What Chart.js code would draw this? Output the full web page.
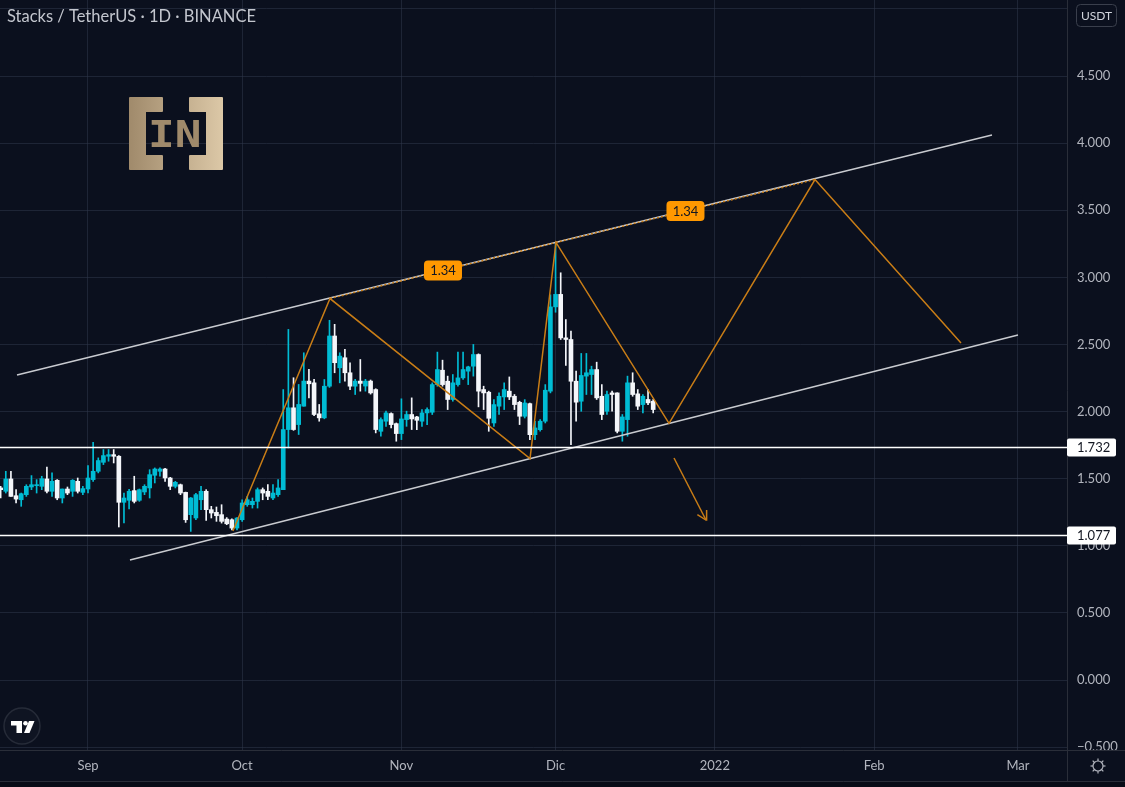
<!DOCTYPE html>
<html>
<head>
<meta charset="utf-8">
<title>Stacks / TetherUS · 1D · BINANCE</title>
<script src="https://cdn.jsdelivr.net/npm/chart.js@4/dist/chart.umd.min.js"></script>
<style>
  html, body { margin: 0; padding: 0; background: #0b101e; overflow: hidden; }
  canvas { display: block; }
</style>
</head>
<body>
<canvas id="chart" width="1125" height="787"></canvas>
<script>
// STX/USDT daily candles. x values are days counted from 2021-09-01.
const FIRST_DAY = -17; // 2021-08-15

const open = [
  1.431, 1.406, 1.498, 1.373, 1.343, 1.381, 1.438, 1.448, 1.443, 1.498,
  1.406, 1.488, 1.356, 1.423, 1.406, 1.480, 1.398, 1.423, 1.493, 1.555,
  1.622, 1.667, 1.679, 1.667, 1.324, 1.339, 1.411, 1.339, 1.401, 1.431,
  1.525, 1.555, 1.572, 1.505, 1.443, 1.455, 1.398, 1.232, 1.207, 1.343,
  1.406, 1.269, 1.249, 1.232, 1.199, 1.194, 1.132, 1.194, 1.306, 1.306,
  1.331, 1.418, 1.406, 1.356, 1.381, 1.418, 1.866, 2.028, 1.903, 2.040,
  2.227, 2.214, 1.983, 1.953, 2.189, 2.563, 2.326, 2.401, 2.289, 2.189,
  2.227, 2.190, 2.227, 2.164, 1.853, 1.928, 1.985, 1.910, 1.836, 1.940,
  1.978, 1.960, 1.928, 1.990, 1.995, 2.201, 2.308, 2.226, 2.090, 2.201,
  2.251, 2.301, 2.338, 2.425, 2.164, 2.144, 1.915, 2.040, 2.109, 2.152,
  2.114, 2.069, 1.965, 2.059, 1.828, 1.865, 1.928, 2.152, 2.780, 2.873,
  2.549, 2.537, 2.226, 2.077, 2.264, 2.276, 2.313, 2.114, 2.002, 2.139,
  2.139, 1.853, 1.940, 2.214, 2.132, 2.052, 2.090, 2.077
];
const high = [
  1.443, 1.555, 1.555, 1.418, 1.393, 1.455, 1.523, 1.493, 1.518, 1.587,
  1.543, 1.493, 1.423, 1.438, 1.493, 1.505, 1.443, 1.597, 1.771, 1.655,
  1.717, 1.717, 1.717, 1.672, 1.393, 1.420, 1.518, 1.423, 1.455, 1.567,
  1.580, 1.580, 1.577, 1.510, 1.480, 1.460, 1.400, 1.360, 1.390, 1.443,
  1.418, 1.294, 1.289, 1.306, 1.210, 1.200, 1.210, 1.343, 1.368, 1.356,
  1.431, 1.431, 1.456, 1.456, 1.493, 2.164, 2.612, 2.252, 2.202, 2.438,
  2.314, 2.240, 2.053, 2.239, 2.680, 2.650, 2.438, 2.463, 2.364, 2.240,
  2.388, 2.240, 2.235, 2.170, 1.953, 2.003, 1.990, 1.915, 2.095, 2.003,
  2.102, 1.965, 2.015, 2.027, 2.214, 2.443, 2.383, 2.264, 2.276, 2.443,
  2.443, 2.338, 2.500, 2.430, 2.189, 2.152, 2.089, 2.139, 2.214, 2.258,
  2.127, 2.077, 2.089, 2.064, 1.927, 1.940, 2.201, 2.870, 3.260, 3.034,
  2.686, 2.600, 2.301, 2.433, 2.433, 2.338, 2.368, 2.201, 2.152, 2.152,
  2.140, 1.978, 2.264, 2.289, 2.164, 2.127, 2.164, 2.090
];
const low = [
  1.356, 1.393, 1.368, 1.319, 1.294, 1.368, 1.418, 1.393, 1.418, 1.393,
  1.368, 1.343, 1.319, 1.381, 1.368, 1.393, 1.381, 1.393, 1.480, 1.543,
  1.605, 1.630, 1.617, 1.140, 1.170, 1.274, 1.319, 1.331, 1.381, 1.356,
  1.468, 1.518, 1.480, 1.418, 1.431, 1.381, 1.174, 1.107, 1.194, 1.269,
  1.189, 1.207, 1.182, 1.169, 1.157, 1.119, 1.119, 1.182, 1.294, 1.281,
  1.281, 1.343, 1.343, 1.343, 1.368, 1.418, 1.729, 1.860, 1.829, 2.040,
  2.102, 1.970, 1.928, 1.946, 2.180, 2.289, 2.214, 2.227, 2.164, 2.127,
  2.152, 2.152, 2.130, 1.841, 1.816, 1.890, 1.878, 1.779, 1.791, 1.890,
  1.866, 1.866, 1.890, 1.903, 1.978, 2.189, 2.189, 2.015, 2.077, 2.189,
  2.239, 2.201, 2.264, 2.035, 2.015, 1.853, 1.890, 1.978, 2.015, 2.089,
  2.015, 1.903, 1.952, 1.791, 1.791, 1.853, 1.915, 2.139, 2.740, 2.537,
  2.343, 1.754, 1.928, 2.002, 2.127, 2.127, 2.090, 1.940, 1.978, 2.002,
  1.841, 1.779, 1.816, 2.114, 2.015, 1.990, 2.052, 1.990
];
const close = [
  1.418, 1.498, 1.368, 1.348, 1.388, 1.443, 1.455, 1.455, 1.500, 1.406,
  1.480, 1.356, 1.423, 1.393, 1.488, 1.406, 1.426, 1.505, 1.555, 1.635,
  1.672, 1.679, 1.667, 1.324, 1.356, 1.406, 1.331, 1.418, 1.443, 1.530,
  1.572, 1.572, 1.505, 1.443, 1.473, 1.393, 1.194, 1.356, 1.381, 1.406,
  1.269, 1.244, 1.224, 1.182, 1.164, 1.132, 1.207, 1.319, 1.343, 1.331,
  1.418, 1.393, 1.368, 1.393, 1.431, 1.866, 2.028, 1.866, 2.053, 2.227,
  2.207, 1.978, 1.953, 2.189, 2.563, 2.364, 2.413, 2.289, 2.189, 2.227,
  2.210, 2.227, 2.139, 1.866, 1.940, 1.990, 1.903, 1.836, 1.945, 1.978,
  1.945, 1.935, 1.990, 2.015, 2.201, 2.313, 2.201, 2.090, 2.214, 2.251,
  2.313, 2.333, 2.425, 2.152, 2.139, 1.950, 2.052, 2.114, 2.164, 2.109,
  2.052, 1.965, 2.064, 1.828, 1.878, 1.928, 2.159, 2.780, 2.873, 2.549,
  2.537, 2.226, 2.070, 2.269, 2.289, 2.313, 2.102, 1.978, 2.127, 2.127,
  1.853, 1.960, 2.214, 2.127, 2.040, 2.114, 2.065, 2.015
];
const days = open.map((_, i) => FIRST_DAY + i);

// Month boundaries on the time axis (days from 2021-09-01)
const monthDays = [0, 30, 61, 91, 122, 153, 181];
const monthLabels = ['Sep', 'Oct', 'Nov', 'Dic', '2022', 'Feb', 'Mar'];
const priceTicks = [-0.5, 0, 0.5, 1, 1.5, 2, 2.5, 3, 3.5, 4, 4.5, 5];

// Drawings: ascending channel, horizontal levels, projected swing path
const upperChannel = [{ x: -13.82, y: 2.272 }, { x: 175.94, y: 4.060 }];
const lowerChannel = [{ x: 8.17, y: 0.894 }, { x: 181.0, y: 2.570 }];
const supportLevels = [1.732, 1.077];
const swingPath = [
  { x: 28.2, y: 1.110 }, { x: 47.10, y: 2.842 }, { x: 86.03, y: 1.650 },
  { x: 91.08, y: 3.260 }, { x: 113.08, y: 1.912 }, { x: 141.49, y: 3.729 },
  { x: 169.91, y: 2.511 }
];
const measureLegs = [
  [{ x: 47.10, y: 2.842 }, { x: 91.08, y: 3.260 }],
  [{ x: 91.08, y: 3.260 }, { x: 141.49, y: 3.729 }]
];
const legRatios = ['1.34', '1.34'];
const breakdownArrow = [{ x: 114.05, y: 1.654 }, { x: 120.28, y: 1.192 }];
const breakdownArrowHead = [{ x: 118.6, y: 1.232 }, { x: 120.28, y: 1.192 }, { x: 120.4, y: 1.267 }];

const BG = '#0b101e';
const GRID = 'rgba(48,55,75,0.55)';
const PANEL_LINE = '#2a2e39';
const TICK_COLOR = '#b2b5be';
const UP = '#00bcd4';
const DOWN = '#f4f6fa';
const PATH_ORANGE = '#c97d16';
const TAG_ORANGE = '#ff9800';
const CHANNEL = '#c9cbd0';
const FONT = 'Lato, "Open Sans", sans-serif';

const candleColor = (ctx) => (close[ctx.dataIndex] >= open[ctx.dataIndex] ? UP : DOWN);
const fmtPrice = (v) => (v < 0 ? '\u2212' + Math.abs(v).toFixed(3) : v.toFixed(3));
const levelLine = (v) => [{ x: -30, y: v }, { x: 200, y: v }];

function roundRect(ctx, x, y, w, h, r) {
  ctx.beginPath();
  ctx.moveTo(x + r, y);
  ctx.lineTo(x + w - r, y);
  ctx.arcTo(x + w, y, x + w, y + r, r);
  ctx.lineTo(x + w, y + h - r);
  ctx.arcTo(x + w, y + h, x + w - r, y + h, r);
  ctx.lineTo(x + r, y + h);
  ctx.arcTo(x, y + h, x, y + h - r, r);
  ctx.lineTo(x, y + r);
  ctx.arcTo(x, y, x + r, y, r);
  ctx.closePath();
}

// "[IN]" brand mark in the upper left of the pane
function drawBrandMark(ctx) {
  ctx.save();
  const g = ctx.createLinearGradient(129, 0, 223, 0);
  g.addColorStop(0, '#a08a6b');
  g.addColorStop(1, '#dcc8a7');
  ctx.fillStyle = g;
  ctx.strokeStyle = g;
  ctx.lineJoin = 'round';
  ctx.lineWidth = 2;
  const left = [[130, 98], [162, 98], [162, 111], [145, 111], [145, 156], [162, 156], [162, 169], [130, 169]];
  const right = [[222, 98], [190, 98], [190, 111], [207, 111], [207, 156], [190, 156], [190, 169], [222, 169]];
  [left, right].forEach((pts) => {
    ctx.beginPath();
    pts.forEach(([px, py], i) => (i ? ctx.lineTo(px, py) : ctx.moveTo(px, py)));
    ctx.closePath();
    ctx.fill();
    ctx.stroke();
  });
  ctx.font = 'bold 37px "DejaVu Sans Mono", monospace';
  ctx.textBaseline = 'alphabetic';
  ctx.translate(148, 147);
  ctx.scale(1.2, 1);
  ctx.fillText('IN', 0, 0);
  ctx.restore();
}

function drawTvMark(ctx) {
  ctx.save();
  ctx.beginPath();
  ctx.arc(22, 726, 18, 0, Math.PI * 2);
  ctx.fillStyle = '#0f1422';
  ctx.fill();
  ctx.strokeStyle = '#262b38';
  ctx.lineWidth = 1.5;
  ctx.stroke();
  ctx.fillStyle = '#ffffff';
  ctx.fillRect(11, 721, 11, 4.5);
  ctx.fillRect(16.5, 721, 5.5, 12);
  ctx.beginPath();
  ctx.arc(25.5, 723.3, 2.3, 0, Math.PI * 2);
  ctx.fill();
  ctx.beginPath();
  ctx.moveTo(29, 721);
  ctx.lineTo(34.5, 721);
  ctx.lineTo(29.5, 733);
  ctx.lineTo(24, 733);
  ctx.closePath();
  ctx.fill();
  ctx.restore();
}

function drawGear(ctx, cx, cy) {
  ctx.save();
  ctx.strokeStyle = TICK_COLOR;
  ctx.lineWidth = 1.2;
  ctx.beginPath();
  ctx.arc(cx, cy, 5, 0, Math.PI * 2);
  ctx.stroke();
  for (let k = 0; k < 8; k++) {
    const a = (k * Math.PI) / 4;
    ctx.beginPath();
    ctx.moveTo(cx + Math.cos(a) * 5, cy + Math.sin(a) * 5);
    ctx.lineTo(cx + Math.cos(a) * 7.5, cy + Math.sin(a) * 7.5);
    ctx.stroke();
  }
  ctx.restore();
}

const decorations = {
  id: 'decorations',
  beforeDraw(chart) {
    const { ctx, width, height } = chart;
    ctx.save();
    ctx.fillStyle = BG;
    ctx.fillRect(0, 0, width, height);
    ctx.restore();
  },
  beforeDatasetsDraw(chart) {
    drawBrandMark(chart.ctx);
  },
  afterDraw(chart) {
    const { ctx, width, height, chartArea: area } = chart;
    const xs = chart.scales.x;
    const ys = chart.scales.y;
    ctx.save();

    // ratio tags on the measured legs
    ctx.font = '13px ' + FONT;
    ctx.textAlign = 'center';
    ctx.textBaseline = 'middle';
    measureLegs.forEach((leg, i) => {
      const mx = (xs.getPixelForValue(leg[0].x) + xs.getPixelForValue(leg[1].x)) / 2;
      const my = (ys.getPixelForValue(leg[0].y) + ys.getPixelForValue(leg[1].y)) / 2;
      roundRect(ctx, mx - 19, my - 10, 38, 20, 4);
      ctx.fillStyle = TAG_ORANGE;
      ctx.fill();
      ctx.fillStyle = '#131722';
      ctx.fillText(legRatios[i], mx, my + 0.5);
    });

    // corner under the price scale
    ctx.fillStyle = BG;
    ctx.fillRect(area.right + 1, area.bottom + 1, width - area.right, 30);
    ctx.fillStyle = '#080c17';
    ctx.fillRect(0, 782, width, height - 782);

    // pane separators
    ctx.strokeStyle = PANEL_LINE;
    ctx.lineWidth = 1;
    ctx.beginPath();
    ctx.moveTo(area.right + 0.5, 0);
    ctx.lineTo(area.right + 0.5, 781);
    ctx.moveTo(0, area.bottom + 0.5);
    ctx.lineTo(width, area.bottom + 0.5);
    ctx.moveTo(0, 781.5);
    ctx.lineTo(width, 781.5);
    ctx.stroke();

    // level tags on the price scale
    ctx.font = '13px ' + FONT;
    ctx.textAlign = 'left';
    supportLevels.forEach((v) => {
      const py = ys.getPixelForValue(v);
      roundRect(ctx, area.right, py - 9, 49, 18, 2);
      ctx.fillStyle = '#ffffff';
      ctx.fill();
      ctx.fillStyle = '#131722';
      ctx.fillText(v.toFixed(3), area.right + 10, py + 0.5);
    });

    // currency box
    roundRect(ctx, 1076.5, 4.5, 40, 22, 4);
    ctx.fillStyle = BG;
    ctx.fill();
    ctx.strokeStyle = '#3a3f4c';
    ctx.stroke();
    ctx.fillStyle = '#d1d4dc';
    ctx.font = '12px ' + FONT;
    ctx.textAlign = 'center';
    ctx.fillText('USDT', 1096.5, 16);

    // symbol title
    ctx.font = '17px ' + FONT;
    ctx.textAlign = 'left';
    ctx.textBaseline = 'alphabetic';
    ctx.fillStyle = '#c3c6ce';
    ctx.fillText('Stacks / TetherUS \u00b7 1D \u00b7 BINANCE', 7, 22, 249);

    ctx.restore();
    drawTvMark(ctx);
    drawGear(ctx, 1098, 766);
  }
};

const lineStyle = { type: 'line', pointRadius: 0, tension: 0, fill: false, order: 1 };

new Chart(document.getElementById('chart'), {
  type: 'bar',
  data: {
    datasets: [
      { ...lineStyle, data: upperChannel, borderColor: CHANNEL, borderWidth: 1.5, order: 3 },
      { ...lineStyle, data: lowerChannel, borderColor: CHANNEL, borderWidth: 1.5, order: 3 },
      ...measureLegs.map((leg) => ({ ...lineStyle, data: leg, borderColor: PATH_ORANGE, borderWidth: 1.5, borderDash: [2, 2], order: 2 })),
      ...supportLevels.map((v) => ({ ...lineStyle, data: levelLine(v), borderColor: '#ffffff', borderWidth: 1.6, order: 1 })),
      { ...lineStyle, data: swingPath, borderColor: PATH_ORANGE, borderWidth: 1.5, order: 1 },
      { ...lineStyle, data: breakdownArrow, borderColor: PATH_ORANGE, borderWidth: 1.5, order: 1 },
      { ...lineStyle, data: breakdownArrowHead, borderColor: PATH_ORANGE, borderWidth: 1.5, order: 1 },
      {
        type: 'bar', order: 6, grouped: false, barThickness: 1,
        data: days.map((d, i) => ({ x: d, y: [low[i], high[i]] })),
        backgroundColor: candleColor, borderWidth: 0
      },
      {
        type: 'bar', order: 5, grouped: false, barThickness: 4, minBarLength: 1,
        data: days.map((d, i) => ({ x: d, y: [open[i], close[i]] })),
        backgroundColor: candleColor, borderWidth: 0
      }
    ]
  },
  options: {
    responsive: false,
    devicePixelRatio: 1,
    animation: false,
    events: [],
    layout: { padding: 0 },
    plugins: { legend: { display: false }, tooltip: { enabled: false } },
    scales: {
      x: {
        type: 'linear',
        min: -17.127,
        max: 190.54,
        offset: false,
        afterBuildTicks: (s) => { s.ticks = monthDays.map((v) => ({ value: v })); },
        afterFit: (s) => { s.height = 37; s.paddingLeft = 0; s.paddingRight = 0; },
        grid: { color: GRID, drawTicks: false, offset: false },
        border: { display: false },
        ticks: {
          color: TICK_COLOR, padding: 8, maxRotation: 0, autoSkip: false,
          font: { family: FONT, size: 13 },
          callback: (v) => monthLabels[monthDays.indexOf(v)] ?? ''
        }
      },
      y: {
        type: 'linear',
        position: 'right',
        min: -0.5215,
        max: 5.0663,
        afterBuildTicks: (s) => { s.ticks = priceTicks.map((v) => ({ value: v })); },
        afterFit: (s) => { s.width = 58; s.paddingTop = 0; s.paddingBottom = 0; },
        grid: { color: GRID, drawTicks: false },
        border: { display: false },
        ticks: {
          color: TICK_COLOR, padding: 10, autoSkip: false,
          font: { family: FONT, size: 13 },
          callback: (v) => (v > 4.9 ? '' : fmtPrice(v))
        }
      }
    }
  },
  plugins: [decorations]
});
</script>
</body>
</html>
